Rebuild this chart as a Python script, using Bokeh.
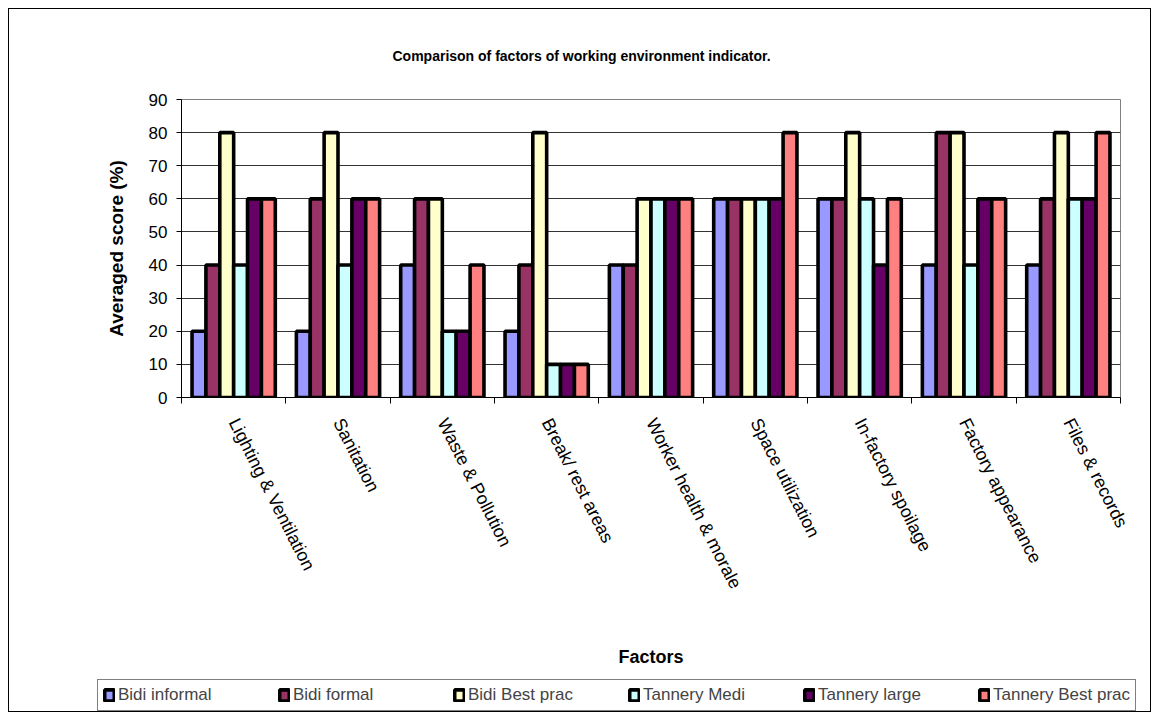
from bokeh.plotting import figure
from bokeh.models import (ColumnDataSource, Range1d, FixedTicker, Legend, LegendItem)
from bokeh.embed import file_html
from bokeh.resources import INLINE

categories = ["Lighting & Ventilation", "Sanitation", "Waste & Pollution", "Break/ rest areas",
              "Worker health & morale", "Space utilization", "In-factory spoilage",
              "Factory appearance", "Files & records"]
series_names = ["Bidi informal", "Bidi formal", "Bidi Best prac", "Tannery Medi",
                "Tannery large", "Tannery Best prac"]
bidi_informal   = [20, 20, 40, 20, 40, 60, 60, 40, 40]
bidi_formal     = [40, 60, 60, 40, 40, 60, 60, 80, 60]
bidi_best_prac  = [80, 80, 60, 80, 60, 60, 80, 80, 80]
tannery_medi    = [40, 40, 20, 10, 60, 60, 60, 40, 60]
tannery_large   = [60, 60, 20, 10, 60, 60, 40, 60, 60]
tannery_best    = [60, 60, 40, 10, 60, 80, 60, 60, 80]
series_values = [bidi_informal, bidi_formal, bidi_best_prac, tannery_medi, tannery_large, tannery_best]
colors = ["#9999FF", "#993366", "#FFFFCC", "#CCFFFF", "#660066", "#FF8080"]
y_ticks = [0, 10, 20, 30, 40, 50, 60, 70, 80, 90]

FONT = "Liberation Sans"
n = len(categories)
bw = 0.133
W = 1143

p = figure(width=W, height=668, output_backend="svg", toolbar_location=None,
           x_range=Range1d(0, n), y_range=Range1d(0, 90),
           min_border_left=172, min_border_right=32, min_border_top=88, min_border_bottom=280,
           title="Comparison of factors of working environment indicator.")
p.styles = {"border": "1px solid black", "border-bottom": "none",
            "margin-left": "8px", "margin-top": "8px"}
p.background_fill_color = "white"
p.border_fill_color = "white"
p.outline_line_color = "#808080"
p.outline_line_width = 1

p.title.text_font = FONT
p.title.text_font_size = "14px"
p.title.text_font_style = "bold"
p.title.text_color = "black"
p.title.align = "left"
p.title.offset = 211
p.title.standoff = 72

for k, (vals, col) in enumerate(zip(series_values, colors)):
    xs = [i + 0.5 + (k - 2.5) * bw for i in range(n)]
    src = ColumnDataSource(dict(x=xs, top=vals))
    p.vbar(x="x", top="top", width=bw, bottom=0, source=src,
           fill_color=col, line_color="black", line_width=3.6)

# grid
p.xgrid.visible = False
p.ygrid.grid_line_color = "#333333"
p.ygrid.grid_line_width = 1
p.ygrid.ticker = FixedTicker(ticks=y_ticks)

# y axis
p.yaxis.ticker = FixedTicker(ticks=y_ticks)
p.yaxis.axis_line_color = "black"
p.yaxis.major_tick_line_color = "black"
p.yaxis.major_tick_out = 5
p.yaxis.major_tick_in = 0
p.yaxis.minor_tick_line_color = None
p.yaxis.major_label_text_font = FONT
p.yaxis.major_label_text_font_size = "17px"
p.yaxis.major_label_text_color = "black"
p.yaxis.major_label_standoff = 9
p.yaxis.axis_label = "Averaged score (%)"
p.yaxis.axis_label_text_font = FONT
p.yaxis.axis_label_text_font_size = "19px"
p.yaxis.axis_label_text_font_style = "bold"
p.yaxis.axis_label_text_color = "black"
p.yaxis.axis_label_standoff = 19

# x axis
centers = [i + 0.5 for i in range(n)]
p.xaxis.ticker = FixedTicker(ticks=centers, minor_ticks=list(range(n + 1)))
p.xaxis.major_label_overrides = {c: lab for c, lab in zip(centers, categories)}
p.xaxis.major_tick_out = 0
p.xaxis.major_tick_in = 0
p.xaxis.minor_tick_out = 6
p.xaxis.minor_tick_in = 0
p.xaxis.minor_tick_line_color = "black"
p.xaxis.axis_line_color = "black"
p.xaxis.major_label_orientation = -1.1
p.xaxis.major_label_text_font = FONT
p.xaxis.major_label_text_font_size = "18px"
p.xaxis.major_label_text_color = "black"
p.xaxis.major_label_standoff = 16
p.xaxis.axis_label = "Factors"
p.xaxis.axis_label_text_font = FONT
p.xaxis.axis_label_text_font_size = "18px"
p.xaxis.axis_label_text_font_style = "bold"
p.xaxis.axis_label_text_color = "black"
p.xaxis.axis_label_standoff = 47

# legend strip (separate root so its frame spans the full width);
# its ranges keep the series' bars out of view, only the legend shows
lf = figure(width=W, height=36, output_backend="svg", toolbar_location=None,
            x_range=Range1d(-30, -29), y_range=Range1d(-30, -29),
            x_axis_location=None, y_axis_location=None,
            min_border=0, min_border_left=0, min_border_right=0,
            min_border_top=0, min_border_bottom=0)
lf.styles = {"border": "1px solid black", "border-top": "none", "margin-left": "8px"}
lf.outline_line_color = None
lf.xgrid.visible = False
lf.ygrid.visible = False
lf.background_fill_color = "white"
lf.border_fill_color = "white"
items = []
for name, vals, col in zip(series_names, series_values, colors):
    src = ColumnDataSource(dict(x=list(range(n)), top=vals))
    r = lf.vbar(x="x", top="top", width=0.1, bottom=0, source=src,
                fill_color=col, line_color="black", line_width=3.6)
    items.append(LegendItem(label=name, renderers=[r]))
legend = Legend(items=items, orientation="horizontal", location=(88, 1),
                border_line_color="black", border_line_width=1,
                background_fill_color="white", background_fill_alpha=1,
                label_text_font=FONT, label_text_font_size="17px",
                glyph_width=12, glyph_height=14, label_standoff=3,
                spacing=32, padding=5, margin=0, label_width=128)
lf.add_layout(legend, "center")

open("out.html", "w").write(file_html([p, lf], INLINE))
